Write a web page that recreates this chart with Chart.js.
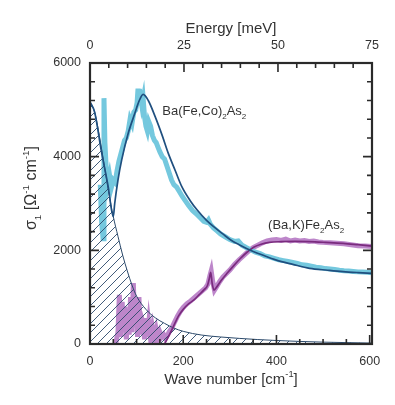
<!DOCTYPE html>
<html>
<head>
<meta charset="utf-8">
<script src="https://cdn.jsdelivr.net/npm/chart.js@4.4.1/dist/chart.umd.min.js"></script>
<style>
 html, body {margin:0; padding:0; background:#ffffff;}
</style>
</head>
<body>
<canvas id="chart" width="395" height="405"></canvas>
<script>

// -----------------------------------------------------------------------------------------------//
//                                        D A T A                                                  //
// -----------------------------------------------------------------------------------------------//

// wave numbers in cm-1, conductivity sigma1 in Ohm-1 cm-1

// hatched Drude component
var drude_w  = [0, 10, 20, 30, 40, 50, 60, 70, 80, 90, 100, 120, 140, 160, 180, 200, 240, 280, 320, 360, 400, 450, 500, 550, 605];
var drude_s  = [5170, 4950, 4450, 3850, 3250, 2720, 2300, 1900, 1560, 1260, 1020, 740, 560, 440, 340, 270, 190, 150, 120, 95, 75, 55, 40, 30, 20];

// Ba(Fe,Co)2As2 measured
var co_w     = [22, 25, 28, 30, 32, 35, 38, 42, 46, 50,
                54, 58, 62, 66, 70, 74, 78, 82, 86, 90,
                94, 98, 101, 103, 105, 108, 111, 114, 117, 120,
                123, 126, 130, 134, 138, 142, 146, 150, 155, 160,
                165, 170, 175, 180, 186, 192, 198, 205, 212, 220,
                228, 236, 244, 250, 254, 258, 265, 272, 280, 290,
                300, 310, 318, 326, 335, 345, 355, 365, 375, 385,
                395, 405, 415, 425, 435, 445, 455, 465, 475, 485,
                495, 505, 515, 525, 535, 545, 555, 565, 575, 585,
                595, 605];
var co_s     = [3400, 2600, 2250, 5250, 4300, 3700, 3400, 3600, 3350, 3500,
                3450, 3700, 3900, 4050, 4200, 4350, 4400, 4550, 4800, 4700,
                4950, 5000, 5150, 5450, 5250, 5300, 5100, 5250, 4850, 4650,
                4550, 4750, 4650, 4450, 4350, 4300, 4200, 4100, 4000, 3950,
                3800, 3650, 3500, 3400, 3350, 3250, 3150, 3050, 2950, 2850,
                2780, 2700, 2620, 2600, 2650, 2560, 2480, 2420, 2350, 2290,
                2230, 2190, 2200, 2110, 2060, 2010, 1960, 1930, 1880, 1860,
                1830, 1800, 1780, 1760, 1740, 1720, 1690, 1680, 1660, 1640,
                1630, 1610, 1600, 1590, 1575, 1565, 1560, 1550, 1540, 1535,
                1530, 1520];

// Ba(Fe,Co)2As2 fit
var cofit_w  = [0, 10, 24, 39, 50, 53, 60, 68, 82, 96, 105, 114, 125, 140, 155, 168, 183, 197, 215, 230,
                250, 266, 285, 302, 320, 338, 370, 400, 435, 471, 510, 543, 575, 605];
var cofit_s  = [5170, 4950, 4140, 3360, 2720, 3000, 3500, 3930, 4500, 4920, 5180, 5330, 5200, 4850, 4450, 4070, 3700, 3360, 3060, 2860,
                2640, 2500, 2350, 2220, 2120, 2030, 1900, 1790, 1700, 1615, 1575, 1545, 1525, 1510];

// (Ba,K)Fe2As2 measured
var k_w      = [55, 60, 63, 66, 69, 72, 75, 78, 81, 84,
                87, 90, 93, 96, 99, 102, 105, 108, 111, 114,
                117, 120, 123, 126, 130, 134, 138, 142, 146, 150,
                154, 158, 162, 166, 170, 176, 182, 188, 194, 200,
                208, 216, 224, 232, 240, 248, 253, 257, 260, 263,
                267, 272, 278, 285, 292, 300, 310, 320, 330, 340,
                350, 360, 370, 380, 390, 400, 410, 420, 430, 440,
                450, 460, 470, 480, 490, 500, 515, 530, 545, 560,
                575, 590, 605];
var k_s      = [0, 250, 1050, 150, 900, 300, 800, 100, 650, 200,
                1000, 250, 1300, 400, 900, 150, 1000, 200, 550, 450,
                100, 550, 150, 450, 100, 350, 120, 300, 80, 250,
                150, 200, 120, 180, 260, 350, 480, 600, 700, 780,
                860, 920, 990, 1060, 1130, 1200, 1280, 1450, 1560, 1350,
                1150, 1230, 1330, 1430, 1500, 1580, 1700, 1800, 1890, 1980,
                2060, 2110, 2160, 2200, 2220, 2230, 2210, 2240, 2200, 2220,
                2200, 2210, 2190, 2200, 2180, 2170, 2160, 2150, 2140, 2120,
                2100, 2090, 2080];

// (Ba,K)Fe2As2 fit
var kfit_w   = [160, 168, 175, 182, 190, 200, 212, 223, 235, 245, 252, 256, 259, 262, 266, 272, 281, 295, 309, 322,
                338, 352, 367, 385, 410, 440, 470, 505, 543, 575, 605];
var kfit_s   = [0, 150, 290, 440, 600, 740, 860, 940, 1060, 1160, 1250, 1400, 1530, 1300, 1150, 1220, 1350, 1520, 1680, 1820,
                1970, 2070, 2130, 2170, 2185, 2190, 2185, 2170, 2150, 2120, 2090];

// axes
var wave_ticks   = [0, 200, 400, 600];
var energy_ticks = [0, 25, 50, 75];
var sigma_ticks  = [0, 2000, 4000, 6000];

var wave_max     = 605;
var sigma_max    = 6000;
var cm_per_mev   = 8.0655;




// -----------------------------------------------------------------------------------------------//
//                                     H E L P E R S                                              //
// -----------------------------------------------------------------------------------------------//

var font_family = "'Liberation Sans', Arial, sans-serif";
var text_color  = "#333333";


function Points(xs, ys)
{
 var points = [];
 for(var i = 0; i < xs.length; i++) points.push({x:xs[i], y:ys[i]});

 return points;
}



function Hatch_Pattern()
{
 var size   = 9;
 var canvas = document.createElement("canvas");
 canvas.width  = size;
 canvas.height = size;

 var ctx = canvas.getContext("2d");
 ctx.strokeStyle = "#2c4a6b";
 ctx.lineWidth   = 0.9;
 ctx.beginPath();
 ctx.moveTo(-1, 1);            ctx.lineTo(1, -1);
 ctx.moveTo(0, size);          ctx.lineTo(size, 0);
 ctx.moveTo(size - 1, size + 1); ctx.lineTo(size + 1, size - 1);
 ctx.stroke();

 return ctx.createPattern(canvas, "repeat");
}



// parts: [text, shift]  shift 0 = normal, -1 = subscript, 1 = superscript
function Draw_Rich(ctx, parts, x, y, size, align)
{
 var widths = [];
 var total  = 0;
 for(var part of parts)
 {
  ctx.font = (part[1] ? size * 0.62 : size) + "px " + font_family;
  var w    = ctx.measureText(part[0]).width;
  widths.push(w);
  total += w;
 }

 if(align == "center") x -= total / 2;

 ctx.textAlign    = "left";
 ctx.textBaseline = "alphabetic";
 for(var i = 0; i < parts.length; i++)
 {
  var part  = parts[i];
  var shift = 0;
  if(part[1] == -1) shift =  size * 0.32;
  if(part[1] ==  1) shift = -size * 0.45;

  ctx.font = (part[1] ? size * 0.62 : size) + "px " + font_family;
  ctx.fillText(part[0], x, y + shift);
  x += widths[i];
 }
}




// -----------------------------------------------------------------------------------------------//
//                                   A X E S   P L U G I N                                        //
// -----------------------------------------------------------------------------------------------//

var Axes_Plugin =
{
 id: "axes",

 afterDatasetsDraw: function(chart)
 {
  var ctx  = chart.ctx;
  var area = chart.chartArea;
  var sx   = chart.scales.x;
  var se   = chart.scales.energy;
  var sy   = chart.scales.y;

  ctx.save();
  ctx.strokeStyle = "#2a2a2a";
  ctx.lineWidth   = 1.6;
  ctx.beginPath();

  // BOTTOM, every 50 cm-1
  for(var w = 0; w <= wave_max; w += 50)
  {
   var px  = sx.getPixelForValue(w);
   var len = (w % 200 == 0) ? 9 : 5;
   ctx.moveTo(px, area.bottom); ctx.lineTo(px, area.bottom - len);
  }

  // TOP, every 5 meV
  for(var e = 0; e <= 75; e += 5)
  {
   var px  = se.getPixelForValue(e);
   var len = (e % 25 == 0) ? 9 : 5;
   ctx.moveTo(px, area.top); ctx.lineTo(px, area.top + len);
  }

  // LEFT AND RIGHT, every 400
  for(var s = 0; s <= sigma_max; s += 400)
  {
   var py  = sy.getPixelForValue(s);
   var len = (s % 2000 == 0) ? 9 : 5;
   ctx.moveTo(area.left, py);  ctx.lineTo(area.left + len, py);
   ctx.moveTo(area.right, py); ctx.lineTo(area.right - len, py);
  }
  ctx.stroke();

  // FRAME
  ctx.lineWidth = 2.2;
  ctx.strokeRect(area.left, area.top, area.right - area.left, area.bottom - area.top);


  // TICK LABELS
  ctx.fillStyle    = text_color;
  ctx.font         = "12.5px " + font_family;
  ctx.textBaseline = "middle";

  ctx.textAlign = "center";
  for(var w of wave_ticks)   ctx.fillText(String(w), sx.getPixelForValue(w), area.bottom + 18);
  for(var e of energy_ticks) ctx.fillText(String(e), se.getPixelForValue(e), area.top - 17);

  ctx.textAlign = "right";
  for(var s of sigma_ticks)  ctx.fillText(String(s), area.left - 9, sy.getPixelForValue(s));


  // AXIS TITLES
  var cx = (area.left + area.right) / 2;
  Draw_Rich(ctx, [["Energy [meV]", 0]], cx, area.top - 30, 15, "center");
  Draw_Rich(ctx, [["Wave number [cm", 0], ["-1", 1], ["]", 0]], cx, area.bottom + 40, 15, "center");

  ctx.save();
  ctx.translate(area.left - 54, 188);
  ctx.rotate(-Math.PI / 2);
  Draw_Rich(ctx, [["\u03c3", 0], ["1", -1], [" [\u03a9", 0], ["-1", 1], [" cm", 0], ["-1", 1], ["]", 0]], 0, 0, 16, "center");
  ctx.restore();


  // SERIES LABELS
  Draw_Rich(ctx, [["Ba(Fe,Co)", 0], ["2", -1], ["As", 0], ["2", -1]],
            sx.getPixelForValue(155), sy.getPixelForValue(4890), 13, "left");
  Draw_Rich(ctx, [["(Ba,K)Fe", 0], ["2", -1], ["As", 0], ["2", -1]],
            sx.getPixelForValue(382), sy.getPixelForValue(2456), 13, "left");

  ctx.restore();
 }
};




// -----------------------------------------------------------------------------------------------//
//                                       C H A R T                                                //
// -----------------------------------------------------------------------------------------------//

var datasets =
[
 {
  label:           "Ba(Fe,Co)2As2 data",
  data:            Points(co_w, co_s),
  borderColor:     "#74c8de",
  borderWidth:     5,
  tension:         0,
  order:           4
 },
 {
  label:           "(Ba,K)Fe2As2 data",
  data:            Points(k_w, k_s),
  borderColor:     "#bd86ca",
  borderWidth:     5,
  tension:         0,
  order:           4
 },
 {
  label:           "Drude",
  data:            Points(drude_w, drude_s),
  borderColor:     "#2c4a6b",
  borderWidth:     1,
  backgroundColor: Hatch_Pattern(),
  fill:            "origin",
  cubicInterpolationMode: "monotone",
  order:           3
 },
 {
  label:           "Ba(Fe,Co)2As2 fit",
  data:            Points(cofit_w, cofit_s),
  borderColor:     "#1f4f7f",
  borderWidth:     1.7,
  cubicInterpolationMode: "monotone",
  order:           1
 },
 {
  label:           "(Ba,K)Fe2As2 fit",
  data:            Points(kfit_w, kfit_s),
  borderColor:     "#7a2b7e",
  borderWidth:     1.7,
  cubicInterpolationMode: "monotone",
  order:           1
 }
];


var chart = new Chart(document.getElementById("chart"),
{
 type: "line",
 data: {datasets},
 options:
 {
  responsive: false,
  animation:  false,
  layout:     {padding: {left: 90, right: 23, top: 63, bottom: 61}},
  elements:   {point: {radius: 0}},
  scales:
  {
   x:      {type: "linear", min: 0, max: wave_max, display: false},
   energy: {type: "linear", axis: "x", position: "top", min: 0, max: wave_max / cm_per_mev, display: false},
   y:      {type: "linear", min: 0, max: sigma_max, display: false}
  },
  plugins:
  {
   legend:  {display: false},
   tooltip: {enabled: false}
  }
 },
 plugins: [Axes_Plugin]
});

</script>
</body>
</html>
